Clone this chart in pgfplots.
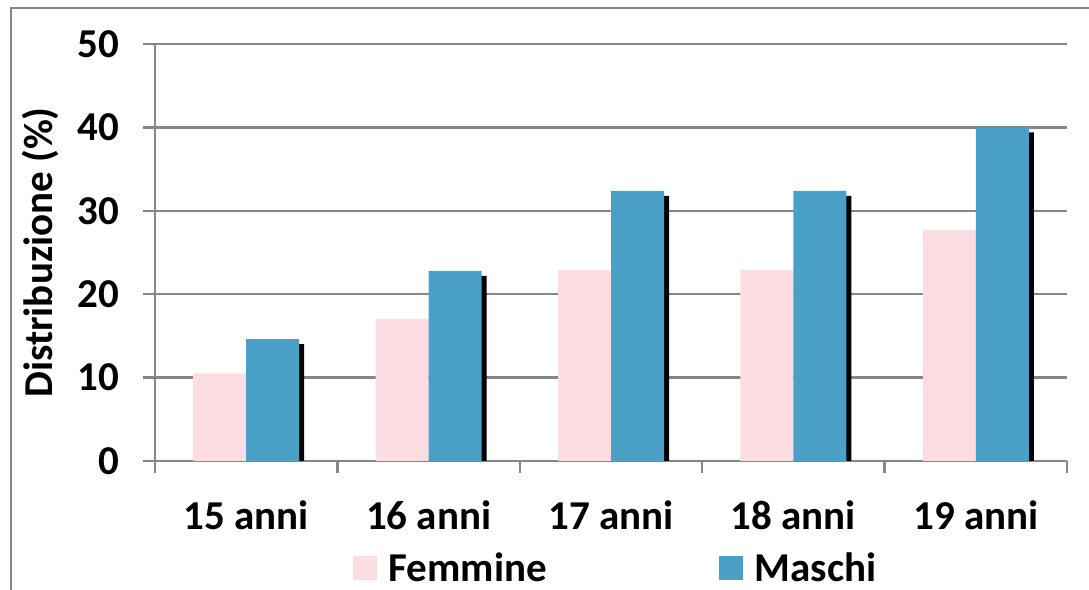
\documentclass[border=0pt]{standalone}
\usepackage{fontspec}
\setmainfont{Carlito}
\usepackage{pgfplots}
\pgfplotsset{compat=1.18}
\definecolor{femm}{RGB}{253,221,226}
\definecolor{masc}{RGB}{75,160,200}
\definecolor{gridgray}{RGB}{134,134,134}
\newcommand{\cf}{\fontsize{41bp}{48bp}\selectfont\bfseries}

\begin{document}
\begin{tikzpicture}[x=1bp,y=1bp]
\useasboundingbox (0,0) rectangle (1089,590);
\begin{axis}[
  at={(155bp,129bp)}, anchor=south west, scale only axis,
  width=912bp, height=417bp,
  ymin=0, ymax=50, ytick={0,10,...,50},
  xmin=-0.5, xmax=4.5,
  xtick={-0.5,0.5,...,4.5}, xticklabels={},
  extra x ticks={0,1,2,3,4},
  extra x tick labels={15 anni,16 anni,17 anni,18 anni,19 anni},
  extra x tick style={major tick length=0pt, grid=none},
  axis x line*=bottom, axis y line*=left,
  axis line style={gridgray, line width=2.5bp},
  tick style={gridgray, line width=2.5bp},
  major tick length=12bp, tick align=outside,
  ymajorgrids, grid style={gridgray, line width=2.5bp},
  /pgf/number format/assume math mode=true,
  ticklabel style={font=\cf},
  xticklabel style={yshift=-36bp},
  yticklabel style={xshift=-20bp},
  ylabel={Distribuzione (\%)},
  ylabel style={font=\cf, at={(axis description cs:-0.126,0.5)}, anchor=center},
  legend style={draw=none, fill=none, font=\cf,
    at={(axis description cs:0.505,-0.2566)}, anchor=center,
    /tikz/every even column/.append style={column sep=170bp},
    /tikz/every odd column/.append style={column sep=10bp}},
  legend columns=2,
  legend image code/.code={\fill[#1,draw=none] (0bp,-12bp) rectangle (24bp,12bp);},
]
\addplot[ybar, bar width=53bp, bar shift=-26.5bp, fill=femm, draw=none]
  coordinates {(0,10.5) (1,17.0) (2,22.9) (3,22.9) (4,27.7)};
\addlegendentry{Femmine}
\addplot[ybar, bar width=53bp, bar shift=31.5bp, fill=black, draw=none, forget plot]
  coordinates {(0,14.0) (1,22.2) (2,31.8) (3,31.8) (4,39.4)};
\addplot[ybar, bar width=53bp, bar shift=26.5bp, fill=masc, draw=none]
  coordinates {(0,14.6) (1,22.8) (2,32.4) (3,32.4) (4,40.0)};
\addlegendentry{Maschi}
\end{axis}
\draw[gridgray, line width=2bp] (11,-10) |- (1100,582);
\end{tikzpicture}
\end{document}
